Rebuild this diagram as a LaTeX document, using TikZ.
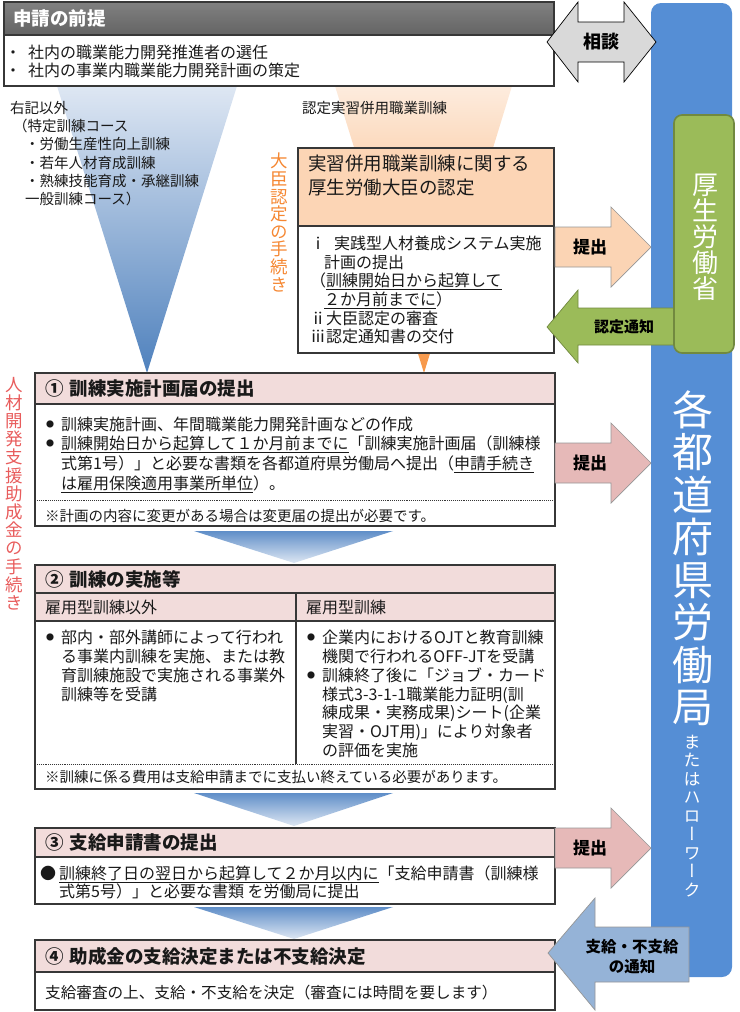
\documentclass[tikz,border=0pt]{standalone}
\usepackage{fontspec}
\setmainfont{Noto Sans CJK JP}
\newfontfamily\vertjp{Noto Sans CJK JP}[RawFeature=+vert]
\lineskiplimit=-100pt

\definecolor{boxline}{RGB}{55,55,55}
\definecolor{textblack}{RGB}{25,25,25}
\definecolor{headgraytop}{RGB}{128,128,128}
\definecolor{headgraybot}{RGB}{100,100,100}
\definecolor{pinkhead}{RGB}{242,220,219}
\definecolor{peachhead}{RGB}{252,213,181}
\definecolor{barblue}{RGB}{85,142,213}
\definecolor{ministrygreen}{RGB}{155,187,89}
\definecolor{greenline}{RGB}{113,137,63}
\definecolor{pinkarrow}{RGB}{230,185,184}
\definecolor{peacharrow}{RGB}{251,212,180}
\definecolor{bluearrow}{RGB}{149,179,215}
\definecolor{talkgray}{RGB}{217,217,217}
\definecolor{arrowline}{RGB}{150,150,150}
\definecolor{orangetxt}{RGB}{245,135,50}
\definecolor{redtxt}{RGB}{232,92,92}
\definecolor{funnelbluetop}{RGB}{222,231,243}
\definecolor{funnelblue}{RGB}{79,129,189}
\definecolor{funnelpeachtop}{RGB}{253,236,222}
\definecolor{funnelorange}{RGB}{247,150,70}
\definecolor{chevtop}{RGB}{95,142,200}
\definecolor{chevbot}{RGB}{222,231,243}

\newcommand{\smbullet}{\raisebox{3pt}{\fontsize{8}{8}\selectfont ●}\hspace{7pt}}

\tikzset{
  frame/.style={draw=boxline, line width=1.2pt},
  noteline/.style={draw=boxline, line width=0.9pt, densely dotted},
  bodytext/.style={anchor=west, inner sep=0pt, align=left, text=textblack},
  headtext/.style={anchor=west, inner sep=0pt, text=textblack, font=\bfseries\fontsize{18.5}{22}\selectfont},
  notetext/.style={anchor=west, inner sep=0pt, text=textblack, font=\fontsize{14.5}{17}\selectfont},
  vtext/.style={inner sep=0pt, align=center},
  blockarrow/.style={line width=0.7pt, line join=miter},
  arrowlabel/.style={inner sep=0pt, align=center, text=black, font=\bfseries\fontsize{17}{20}\selectfont}
}

\begin{document}
\begin{tikzpicture}[x=1pt, y=-1pt]
    \useasboundingbox (0,0) rectangle (739,1012);
    % Draw the funnels
    \shade[top color=funnelbluetop, bottom color=funnelblue] (57,86) -- (237,86) -- (147,373) -- cycle;
    \shade[top color=funnelpeachtop, bottom color=funnelorange] (335,86) -- (512,86) -- (424,373) -- cycle;
    % Draw the bureau bar
    \fill[barblue, rounded corners=10pt] (651,3) rectangle (732,977);
    % Draw the prerequisite box
    \shade[top color=headgraytop, bottom color=headgraybot] (4,2) rectangle (554,35);
    \fill[white] (4,35) rectangle (554,86);
    \draw[frame] (4,2) rectangle (554,86);
    \draw[frame] (4,35) -- (554,35);
    \node[headtext, text=white] (prereqhead) at (13,18.5) {申請の前提};
    \node[bodytext, font=\fontsize{16}{18}\selectfont] (prereqbody) at (5,61) {・\hspace{7pt}社内の職業能力開発推進者の選任\\・\hspace{7pt}社内の事業内職業能力開発計画の策定};
    % Draw the course texts
    \node[bodytext, font=\fontsize{14.5}{18.2}\selectfont] (otherlist) at (10,153.5) {右記以外\\\hspace*{3pt}（特定訓練コース\\\hspace*{15pt}・労働生産性向上訓練\\\hspace*{15pt}・若年人材育成訓練\\\hspace*{15pt}・熟練技能育成・承継訓練\\\hspace*{15pt}一般訓練コース）};
    \node[bodytext, font=\fontsize{14.5}{17}\selectfont] (jointlist) at (302,108) {認定実習併用職業訓練};
    % Draw the side labels
    \node[vtext, font=\vertjp\fontsize{17.5}{17.6}\selectfont, text=orangetxt] (approvalside) at (279,222.5) {大\\臣\\認\\定\\の\\手\\続\\き};
    \node[vtext, font=\vertjp\fontsize{17.5}{18.2}\selectfont, text=redtxt] (grantside) at (14,493.5) {人\\材\\開\\発\\支\\援\\助\\成\\金\\の\\手\\続\\き};
    % Draw the approval box
    \fill[peachhead] (298,148) rectangle (554,226);
    \fill[white] (298,226) rectangle (554,353);
    \draw[frame] (298,148) rectangle (554,353);
    \draw[frame] (298,226) -- (554,226);
    \node[bodytext, font=\fontsize{18.5}{24}\selectfont] (approvalhead) at (308,175) {実習併用職業訓練に関する\\厚生労働大臣の認定};
    \node[bodytext, font=\fontsize{16}{18.7}\selectfont] (approvalsteps) at (310,290) {ⅰ\hspace{8pt}実践型人材養成システム実施\\\hspace*{14pt}計画の提出\\（\underline{訓練開始日から起算して}\\\hspace*{14pt}\underline{２か月前までに}）\\ⅱ大臣認定の審査\\ⅲ認定通知書の交付};
    % Draw step 1
    \fill[pinkhead] (35,373) rectangle (555,404);
    \fill[white] (35,404) rectangle (555,526);
    \draw[frame] (35,373) rectangle (555,526);
    \draw[frame] (35,404) -- (555,404);
    \draw[noteline] (35,500) -- (555,500);
    \node[headtext] (planhead) at (45,388.5) {①\hspace{6pt}訓練実施計画届の提出};
    \node[bodytext, font=\fontsize{16}{19.7}\selectfont] (planbody) at (46,454.5) {\smbullet 訓練実施計画、年間職業能力開発計画などの作成\\\smbullet \underline{訓練開始日から起算して１か月前までに}「訓練実施計画届（訓練様\\\hspace*{15pt}式第1号）」と必要な書類を各都道府県労働局へ提出（\underline{申請手続き}\\\hspace*{15pt}\underline{は雇用保険適用事業所単位}）。};
    \node[notetext] (plannote) at (45,516) {※計画の内容に変更がある場合は変更届の提出が必要です。};
    % Draw the chevrons
    \shade[top color=chevtop, bottom color=chevbot] (194,531) -- (393,531) -- (294,563) -- cycle;
    \shade[top color=chevtop, bottom color=chevbot] (194,793) -- (393,793) -- (294,826) -- cycle;
    \shade[top color=chevtop, bottom color=chevbot] (194,907) -- (393,907) -- (294,939) -- cycle;
    % Draw step 2
    \fill[pinkhead] (35,565) rectangle (555,621);
    \fill[white] (35,621) rectangle (555,789);
    \draw[frame] (35,565) rectangle (555,789);
    \draw[frame] (35,593) -- (555,593);
    \draw[frame] (35,621) -- (555,621);
    \draw[frame] (296,593) -- (296,764);
    \draw[noteline] (35,764) -- (555,764);
    \node[headtext] (trainhead) at (45,579) {②\hspace{6pt}訓練の実施等};
    \node[bodytext, font=\fontsize{16}{19}\selectfont] (nonemphead) at (45,607) {雇用型訓練以外};
    \node[bodytext, font=\fontsize{16}{19}\selectfont] (emphead) at (306,607) {雇用型訓練};
    \node[bodytext, font=\fontsize{16}{18.8}\selectfont] (nonempbody) at (46,666) {\smbullet 部内・部外講師によって行われ\\\hspace*{15pt}る事業内訓練を実施、または教\\\hspace*{15pt}育訓練施設で実施される事業外\\\hspace*{15pt}訓練等を受講};
    \node[bodytext, font=\fontsize{16}{18.7}\selectfont] (empbody) at (307,694) {\smbullet 企業内におけるOJTと教育訓練\\\hspace*{15pt}機関で行われるOFF-JTを受講\\\smbullet 訓練終了後に「ジョブ・カード\\\hspace*{15pt}様式3-3-1-1職業能力証明(訓\\\hspace*{15pt}練成果・実務成果)シート(企業\\\hspace*{15pt}実習・OJT用)」により対象者\\\hspace*{15pt}の評価を実施};
    \node[notetext] (trainnote) at (45,777) {※訓練に係る費用は支給申請までに支払い終えている必要があります。};
    % Draw step 3
    \fill[pinkhead] (35,828) rectangle (555,857);
    \fill[white] (35,857) rectangle (555,904);
    \draw[frame] (35,828) rectangle (555,904);
    \draw[frame] (35,857) -- (555,857);
    \node[headtext] (claimhead) at (45,842.5) {③\hspace{6pt}支給申請書の提出};
    \node[bodytext, font=\fontsize{16}{17.5}\selectfont] (claimbody) at (40,882.5) {●\hspace{3pt}\underline{訓練終了日の翌日から起算して２か月以内に}「支給申請書（訓練様\\\hspace*{19pt}式第5号）」と必要な書類 を労働局に提出};
    % Draw step 4
    \fill[pinkhead] (35,940) rectangle (555,972);
    \fill[white] (35,972) rectangle (555,1010);
    \draw[frame] (35,940) rectangle (555,1010);
    \draw[frame] (35,972) -- (555,972);
    \node[headtext] (decisionhead) at (45,956.5) {④\hspace{6pt}助成金の支給決定または不支給決定};
    \node[bodytext, font=\fontsize{15.6}{18}\selectfont] (decisionbody) at (45,993) {支給審査の上、支給・不支給を決定（審査には時間を要します）};
    % Draw the consult arrow
    \draw[blockarrow, fill=talkgray, draw=black] (547,42) -- (578,2) -- (578,22) -- (624,22) -- (624,2) -- (656,42) -- (624,82) -- (624,62) -- (578,62) -- (578,82) -- cycle;
    \node[arrowlabel, font=\bfseries\fontsize{18}{20}\selectfont] (consult) at (601,42) {相談};
    % Draw the submit arrows
    \draw[blockarrow, fill=peacharrow, draw=arrowline] (555,227) -- (611,227) -- (611,207) -- (651,247) -- (611,287) -- (611,267) -- (555,267) -- cycle;
    \node[arrowlabel] (submitplan) at (590,247) {提出};
    \draw[blockarrow, fill=pinkarrow, draw=arrowline] (555,443) -- (611,443) -- (611,423) -- (651,463) -- (611,503) -- (611,483) -- (555,483) -- cycle;
    \node[arrowlabel] (submitform) at (590,463) {提出};
    \draw[blockarrow, fill=pinkarrow, draw=arrowline] (555,828) -- (611,828) -- (611,808) -- (651,848) -- (611,888) -- (611,868) -- (555,868) -- cycle;
    \node[arrowlabel] (submitclaim) at (590,848) {提出};
    % Draw the approval notice arrow
    \draw[blockarrow, fill=ministrygreen, draw=greenline] (547,327) -- (578,290) -- (578,308) -- (680,308) -- (680,345) -- (578,345) -- (578,363) -- cycle;
    \node[arrowlabel, font=\bfseries\fontsize{15}{18}\selectfont] (notice) at (624,327) {認定通知};
    % Draw the ministry box
    \draw[fill=ministrygreen, draw=greenline, line width=1.6pt, rounded corners=8pt] (674,115) rectangle (734,353);
    \node[vtext, font=\vertjp\fontsize{26}{26}\selectfont, text=white] (ministry) at (705,237) {厚\\生\\労\\働\\省};
    % Draw the bureau texts
    \node[vtext, font=\vertjp\fontsize{41}{42.5}\selectfont, text=white] (bureau) at (693,558) {各\\都\\道\\府\\県\\労\\働\\局};
    \node[vtext, font=\vertjp\fontsize{17}{18.5}\selectfont, text=white] (hellowork) at (692,816) {ま\\た\\は\\ハ\\ロ\\ー\\ワ\\ー\\ク};
    % Draw the payment notice arrow
    \draw[blockarrow, fill=bluearrow, draw=arrowline] (548,953) -- (595,898) -- (595,927) -- (689,927) -- (689,982) -- (595,982) -- (595,1010) -- cycle;
    \node[arrowlabel, font=\bfseries\fontsize{15.5}{20}\selectfont] (paynotice) at (632,957) {支給・不支給\\の通知};
\end{tikzpicture}
\end{document}
